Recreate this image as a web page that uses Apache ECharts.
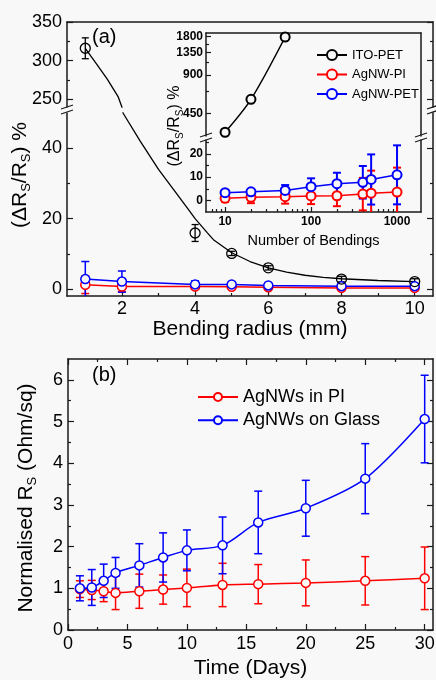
<!DOCTYPE html>
<html>
<head>
<meta charset="utf-8">
<script src="https://cdn.jsdelivr.net/npm/echarts@6/dist/echarts.min.js"></script>
<style>body{margin:0;background:#f8f8f8}</style>
</head>
<body>
<div id="main" style="width:436px;height:680px"></div>
<script>
// (a) main plot: resistance change vs bending radius
var radius = [1, 2, 4, 5, 6, 8, 10];
var itoRadius = [1, 4, 5, 6, 8, 10];
var itoVal = [316, 15.9, 10.1, 6.0, 2.8, 2.1];
var itoErr = [13.5, 2.4, 0.6, 0.6, 0.8, 0.8];
var piVal = [1.2, 0.7, 0.7, 0.6, 0.5, 0.3, 0.3];
var piErr = [2.5, 1.5, 0.6, 0.5, 0.5, 0.6, 0.6];
var petVal = [2.8, 2.1, 1.3, 1.3, 1.0, 0.8, 0.8];
var petErr = [5.0, 3.0, 1.0, 0.6, 0.5, 0.5, 0.5];
// black fitted curve of ITO-PET
var fitX = [1, 1.3, 1.6, 1.9, 2.0, 2.03, 2.5, 3, 3.5, 3.83, 4, 4.33, 4.5, 5, 5.5, 6, 6.5, 7, 7.5, 8, 9, 10];
var fitY = [316, 296, 276, 253, 240, 50, 42, 34, 27, 22.4, 20, 16, 14, 10.3, 7.8, 6, 4.8, 3.9, 3.3, 2.9, 2.4, 2.1];

// (a) inset: resistance change vs number of bendings
var bendings = [10, 20, 50, 100, 200, 400, 500, 1000];
var itoBend = [10, 20, 50];
var itoBendVal = [320, 580, 1790];
var piBendVal = [0.9, 1.3, 1.6, 1.9, 2.0, 2.7, 3.1, 3.6];
var piBendErr = [1.5, 2.5, 3.0, 3.5, 4.5, 7.0, 9.7, 10.5];
var petBendVal = [3.3, 3.7, 4.3, 5.9, 7.2, 7.8, 9.0, 11.0];
var petBendErr = [1.0, 1.0, 2.3, 3.6, 4.7, 7.0, 10.8, 12.7];

// (b) normalised sheet resistance vs time
var days = [1, 2, 3, 4, 6, 8, 10, 13, 16, 20, 25, 30];
var piDays = [0.98, 0.96, 0.93, 0.89, 0.93, 0.97, 1.01, 1.08, 1.10, 1.13, 1.18, 1.24];
var piDaysErr = [0.2, 0.23, 0.25, 0.4, 0.41, 0.35, 0.45, 0.52, 0.47, 0.55, 0.58, 0.75];
var glassDays = [1.0, 1.02, 1.18, 1.37, 1.55, 1.74, 1.91, 2.03, 2.58, 2.92, 3.63, 5.06];
var glassDaysErr = [0.3, 0.43, 0.4, 0.37, 0.52, 0.59, 0.49, 0.68, 0.75, 0.67, 0.84, 1.05];

// tick values
var radiusTicks = [2, 4, 6, 8, 10], radiusMinor = [1, 3, 5, 7, 9];
var upperTicks = [250, 300, 350], upperMinor = [275, 325];
var lowerTicks = [0, 20, 40], lowerMinor = [10, 30];
var bendTicks = [10, 100, 1000];
var bendMinor = [7, 8, 9, 20, 30, 40, 50, 60, 70, 80, 90, 200, 300, 400, 500, 600, 700, 800, 900];
var insetUpTicks = [450, 900, 1350, 1800], insetUpMinor = [675, 1125, 1575];
var insetLowTicks = [0, 10, 20], insetLowMinor = [5, 15, 25];
var dayTicks = [0, 5, 10, 15, 20, 25, 30], dayMinor = [2.5, 7.5, 12.5, 17.5, 22.5, 27.5];
var normTicks = [0, 1, 2, 3, 4, 5, 6], normMinor = [0.5, 1.5, 2.5, 3.5, 4.5, 5.5];

var FONT = '"Liberation Sans", Arial, sans-serif';
var BG = '#f8f8f8';
var INK = '#1a1a1a';
var RED = '#ff0000', BLUE = '#0000ff', BLACK = '#000000';

function pairs(xs, ys) { return xs.map(function (x, i) { return [x, ys[i]]; }); }
function triples(xs, ys, es) { return xs.map(function (x, i) { return [x, ys[i], es[i]]; }); }

var xAxes = [], yAxes = [];
function makeAxis(o) {
  var a = {
    type: o.type || 'value', gridIndex: o.grid, position: o.pos, min: o.min, max: o.max,
    axisLine: { show: !!o.line, onZero: false, lineStyle: { color: INK, width: 1.5 } },
    axisTick: { show: !!o.ticks, inside: true, length: o.len || 5, lineStyle: { color: INK, width: 1.2 } },
    axisLabel: { show: false },
    splitLine: { show: false }
  };
  if (o.ticks) a.axisTick.customValues = o.ticks;
  if (o.labels) {
    a.axisLabel = {
      show: true, customValues: o.labels, margin: o.margin, color: '#000', fontFamily: FONT,
      fontSize: o.size, fontWeight: o.bold ? 'bold' : 'normal',
      formatter: function (v) { return String(v); }
    };
  }
  if (o.name) {
    a.name = o.name; a.nameLocation = 'middle'; a.nameGap = o.nameGap;
    a.nameTextStyle = { color: '#000', fontFamily: FONT, fontSize: o.nameSize };
  }
  return a;
}
function addX(o) { xAxes.push(makeAxis(o)); return xAxes.length - 1; }
function addY(o) { yAxes.push(makeAxis(o)); return yAxes.length - 1; }

// panel (a), broken y axis -> grid 0 (upper) and grid 1 (lower)
var xaTop = addX({ grid: 0, pos: 'top', min: 0.5, max: 10.5, line: true });
var xaBot = addX({ grid: 1, pos: 'bottom', min: 0.5, max: 10.5, line: true, ticks: radiusTicks, len: 6,
  labels: radiusTicks, size: 18, margin: 4, name: 'Bending radius (mm)', nameGap: 21, nameSize: 21 });
addX({ grid: 1, pos: 'bottom', min: 0.5, max: 10.5, ticks: radiusMinor, len: 3 });
var yaUp = addY({ grid: 0, pos: 'left', min: 240, max: 350, line: true, ticks: upperTicks, len: 6, labels: upperTicks, size: 18, margin: 5 });
addY({ grid: 0, pos: 'left', min: 240, max: 350, ticks: upperMinor, len: 3 });
addY({ grid: 0, pos: 'right', min: 240, max: 350, line: true, ticks: upperTicks, len: 6 });
addY({ grid: 0, pos: 'right', min: 240, max: 350, ticks: upperMinor, len: 3 });
var yaLow = addY({ grid: 1, pos: 'left', min: -2, max: 50, line: true, ticks: lowerTicks, len: 6, labels: lowerTicks, size: 18, margin: 5 });
addY({ grid: 1, pos: 'left', min: -2, max: 50, ticks: lowerMinor, len: 3 });
addY({ grid: 1, pos: 'right', min: -2, max: 50, line: true, ticks: lowerTicks, len: 6 });
addY({ grid: 1, pos: 'right', min: -2, max: 50, ticks: lowerMinor, len: 3 });

// inset, also broken -> grid 2 (log upper) and grid 3 (linear lower)
var xiTop = addX({ type: 'log', grid: 2, pos: 'top', min: 6, max: 1900, line: true });
var xiBot = addX({ type: 'log', grid: 3, pos: 'bottom', min: 6, max: 1900, line: true, ticks: bendTicks, len: 5,
  labels: bendTicks, size: 12, bold: true, margin: 4, name: 'Number of Bendings', nameGap: 21, nameSize: 14.5 });
addX({ type: 'log', grid: 3, pos: 'bottom', min: 6, max: 1900, ticks: bendMinor, len: 3 });
var yiUp = addY({ type: 'log', grid: 2, pos: 'left', min: 299, max: 1924, line: true, ticks: insetUpTicks, len: 5,
  labels: insetUpTicks, size: 12, bold: true, margin: 3 });
addY({ type: 'log', grid: 2, pos: 'left', min: 299, max: 1924, ticks: insetUpMinor, len: 3 });
addY({ type: 'log', grid: 2, pos: 'right', min: 299, max: 1924, line: true });
var yiLow = addY({ grid: 3, pos: 'left', min: -5, max: 26, line: true, ticks: insetLowTicks, len: 5,
  labels: insetLowTicks, size: 12, bold: true, margin: 3 });
addY({ grid: 3, pos: 'left', min: -5, max: 26, ticks: insetLowMinor, len: 3 });
addY({ grid: 3, pos: 'right', min: -5, max: 26, line: true });

// panel (b) -> grid 4
var xb = addX({ grid: 4, pos: 'bottom', min: 0, max: 30.7, line: true, ticks: dayTicks, len: 6,
  labels: dayTicks, size: 18, margin: 5, name: 'Time (Days)', nameGap: 28, nameSize: 21 });
addX({ grid: 4, pos: 'bottom', min: 0, max: 30.7, ticks: dayMinor, len: 3 });
addX({ grid: 4, pos: 'top', min: 0, max: 30.7, line: true, ticks: dayTicks, len: 6 });
addX({ grid: 4, pos: 'top', min: 0, max: 30.7, ticks: dayMinor, len: 3 });
var yb = addY({ grid: 4, pos: 'left', min: 0, max: 6.5, line: true, ticks: normTicks, len: 6, labels: normTicks, size: 18, margin: 5 });
addY({ grid: 4, pos: 'left', min: 0, max: 6.5, ticks: normMinor, len: 3 });
addY({ grid: 4, pos: 'right', min: 0, max: 6.5, line: true, ticks: normTicks, len: 6 });
addY({ grid: 4, pos: 'right', min: 0, max: 6.5, ticks: normMinor, len: 3 });

function errBars(color, width, cap) {
  return function (params, api) {
    var x = api.value(0), y = api.value(1), e = api.value(2);
    var hi = api.coord([x, y + e]), lo = api.coord([x, y - e]);
    var st = { stroke: color, lineWidth: width };
    return { type: 'group', children: [
      { type: 'line', shape: { x1: hi[0], y1: hi[1], x2: lo[0], y2: lo[1] }, style: st },
      { type: 'line', shape: { x1: hi[0] - cap, y1: hi[1], x2: hi[0] + cap, y2: hi[1] }, style: st },
      { type: 'line', shape: { x1: lo[0] - cap, y1: lo[1], x2: lo[0] + cap, y2: lo[1] }, style: st }
    ] };
  };
}
function errSeries(name, xi, yi, data, color, width, cap) {
  return { name: name, type: 'custom', xAxisIndex: xi, yAxisIndex: yi, data: data, clip: true,
    encode: { x: 0, y: 1 }, renderItem: errBars(color, width, cap), silent: true, z: 2 };
}
function lineSeries(name, xi, yi, data, color, o) {
  o = o || {};
  return { name: name, type: 'line', xAxisIndex: xi, yAxisIndex: yi, data: data, clip: true,
    smooth: o.smooth || false, symbol: o.noSymbol ? 'none' : 'circle', symbolSize: o.size || 9,
    showSymbol: !o.noSymbol,
    itemStyle: { color: BG, borderColor: color, borderWidth: o.bw || 1.5, opacity: 1 },
    lineStyle: { color: color, width: o.lw || 1.5 }, z: 3, silent: true };
}
function dots(name, xi, yi, data, color) {
  return { name: name, type: 'scatter', xAxisIndex: xi, yAxisIndex: yi, data: data, clip: true,
    symbol: 'circle', symbolSize: 10,
    itemStyle: { color: 'rgba(0,0,0,0)', borderColor: color, borderWidth: 1.3, opacity: 1 }, z: 4, silent: true };
}

var fitData = pairs(fitX, fitY);
var series = [
  // panel (a) upper
  lineSeries('fit-up', xaTop, yaUp, fitData, BLACK, { noSymbol: true, lw: 1.3 }),
  errSeries('ito-err-up', xaTop, yaUp, triples(itoRadius, itoVal, itoErr), BLACK, 1.3, 3.5),
  dots('ito-up', xaTop, yaUp, pairs(itoRadius, itoVal), BLACK),
  // panel (a) lower
  lineSeries('fit-low', xaBot, yaLow, fitData, BLACK, { noSymbol: true, lw: 1.3 }),
  errSeries('ito-err-low', xaBot, yaLow, triples(itoRadius, itoVal, itoErr), BLACK, 1.3, 3.5),
  errSeries('pi-err', xaBot, yaLow, triples(radius, piVal, piErr), RED, 1.5, 4),
  errSeries('pet-err', xaBot, yaLow, triples(radius, petVal, petErr), BLUE, 1.5, 4),
  lineSeries('pi-a', xaBot, yaLow, pairs(radius, piVal), RED),
  lineSeries('pet-a', xaBot, yaLow, pairs(radius, petVal), BLUE),
  dots('ito-low', xaBot, yaLow, pairs(itoRadius, itoVal), BLACK),
  // inset
  lineSeries('ITO-PET', xiTop, yiUp, pairs(itoBend, itoBendVal), BLACK, { smooth: 0.3, bw: 2, lw: 1.5 }),
  errSeries('pi-bend-err', xiBot, yiLow, triples(bendings, piBendVal, piBendErr), RED, 2, 4),
  errSeries('pet-bend-err', xiBot, yiLow, triples(bendings, petBendVal, petBendErr), BLUE, 2, 4),
  lineSeries('AgNW-PI', xiBot, yiLow, pairs(bendings, piBendVal), RED, { bw: 2, lw: 1.5 }),
  lineSeries('AgNW-PET', xiBot, yiLow, pairs(bendings, petBendVal), BLUE, { bw: 2, lw: 1.5 }),
  // panel (b)
  errSeries('pi-days-err', xb, yb, triples(days, piDays, piDaysErr), RED, 1.5, 4),
  errSeries('glass-days-err', xb, yb, triples(days, glassDays, glassDaysErr), BLUE, 1.5, 4),
  lineSeries('AgNWs in PI', xb, yb, pairs(days, piDays), RED, { smooth: 0.3 }),
  lineSeries('AgNWs on Glass', xb, yb, pairs(days, glassDays), BLUE, { smooth: 0.3 })
];

function breakMark(x, y) {
  var st = { stroke: INK, lineWidth: 1.2 };
  return { type: 'group', children: [
    { type: 'line', shape: { x1: x - 6, y1: y - 1, x2: x + 6, y2: y - 5 }, style: st },
    { type: 'line', shape: { x1: x - 6, y1: y + 4, x2: x + 6, y2: y }, style: st }
  ] };
}
function vTitle(x, y, parts, size, sub) {
  return { type: 'text', x: x, y: y, rotation: Math.PI / 2, style: {
    text: parts, align: 'center', verticalAlign: 'middle', fill: '#000',
    rich: {
      n: { fontFamily: FONT, fontSize: size, lineHeight: size + 5, fill: '#000' },
      s: { fontFamily: FONT, fontSize: sub, lineHeight: sub, verticalAlign: 'bottom', fill: '#000' }
    } } };
}
var ratioLabel = '{n|(ΔR}{s|S}{n|/R}{s|S}{n|) %}';

var option = {
  backgroundColor: BG,
  animation: false,
  grid: [
    { left: 67, top: 22, width: 366, height: 85, containLabel: false, outerBoundsMode: 'none' },
    { left: 67, top: 113, width: 366, height: 183, containLabel: false, outerBoundsMode: 'none' },
    { left: 206, top: 33, width: 215, height: 103, containLabel: false, outerBoundsMode: 'none' },
    { left: 206, top: 140, width: 215, height: 72, containLabel: false, outerBoundsMode: 'none' },
    { left: 68, top: 359, width: 365, height: 271, containLabel: false, outerBoundsMode: 'none' }
  ],
  xAxis: xAxes,
  yAxis: yAxes,
  legend: [
    { data: ['ITO-PET', 'AgNW-PI', 'AgNW-PET'], orient: 'vertical', left: 311, top: 43,
      itemWidth: 30, itemHeight: 12.5, itemGap: 5.5, selectedMode: false,
      textStyle: { color: '#000', fontFamily: FONT, fontSize: 13, lineHeight: 14 } },
    { data: ['AgNWs in PI', 'AgNWs on Glass'], orient: 'vertical', left: 192, top: 383,
      itemWidth: 40, itemHeight: 10, itemGap: 5.3, selectedMode: false,
      textStyle: { color: '#000', fontFamily: FONT, fontSize: 18, lineHeight: 18 } }
  ],
  graphic: [
    vTitle(20, 175, ratioLabel, 21, 13),
    vTitle(175, 126, ratioLabel, 16, 10),
    vTitle(26, 498, '{n|Normalised R}{s|S}{n| (Ohm/sq)}', 21, 13),
    { type: 'text', x: 92, y: 37, style: { text: '(a)', fill: '#000', font: '20px ' + FONT, align: 'left', verticalAlign: 'middle' } },
    { type: 'text', x: 92, y: 375, style: { text: '(b)', fill: '#000', font: '20px ' + FONT, align: 'left', verticalAlign: 'middle' } },
    breakMark(67, 110), breakMark(433, 110),
    breakMark(206, 138), breakMark(421, 138)
  ],
  series: series
};

var chart = echarts.init(document.getElementById('main'));
chart.setOption(option);
</script>
</body>
</html>
